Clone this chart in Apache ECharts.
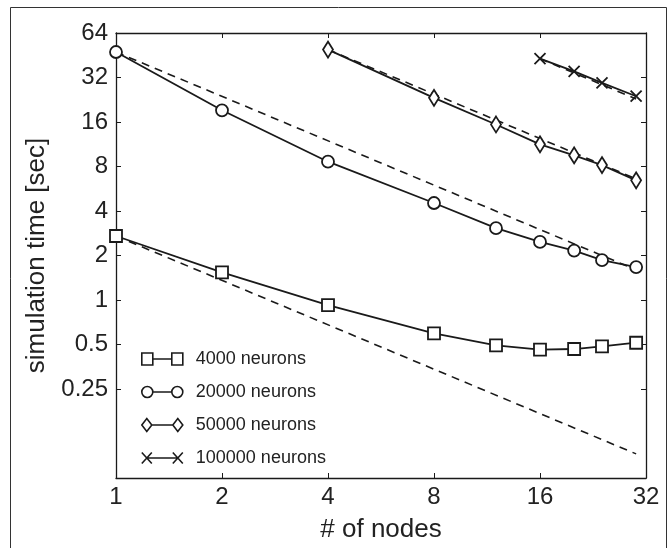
<!DOCTYPE html>
<html>
<head>
<meta charset="utf-8">
<script src="https://cdn.jsdelivr.net/npm/echarts@6/dist/echarts.min.js"></script>
<style>
html,body{margin:0;padding:0;background:#fff;}
#chart{width:671px;height:548px;}
</style>
</head>
<body>
<div id="chart"></div>
<script>
// ---- data ----
const nodes4000 = [1, 2, 4, 8, 12, 16, 20, 24, 30];
const time4000 = [2.71, 1.54, 0.924, 0.595, 0.494, 0.461, 0.466, 0.486, 0.514];
const nodes20000 = [1, 2, 4, 8, 12, 16, 20, 24, 30];
const time20000 = [47.6, 19.2, 8.62, 4.53, 3.06, 2.47, 2.16, 1.86, 1.67];
const nodes50000 = [4, 8, 12, 16, 20, 24, 30];
const time50000 = [49.4, 23.3, 15.4, 11.3, 9.51, 8.18, 6.45];
const nodes100000 = [16, 20, 24, 30];
const time100000 = [42.9, 35.2, 29.4, 23.9];
// dashed ideal-scaling reference lines (end points)
const ideal4000 = [[1, 2.71], [30, 0.091]];
const ideal20000 = [[1, 47.6], [30, 1.6]];
const ideal50000 = [[4, 49.4], [30, 6.6]];
const ideal100000 = [[16, 42.9], [30, 22.9]];
const seriesNames = ['4000 neurons', '20000 neurons', '50000 neurons', '100000 neurons'];
const xTicks = [1, 2, 4, 8, 16, 32];
const yTicks = [0.25, 0.5, 1, 2, 4, 8, 16, 32, 64];

const pair = (xs, ys) => xs.map((x, i) => [x, ys[i]]);

const INK = '#1a1a1a';
const FONT = 'Liberation Sans';

const icons = {
  square: 'path://M0 0.5L11 0.5L11 12.5L0 12.5ZM30 0.5L41 0.5L41 12.5L30 12.5ZM11 6.5L30 6.5',
  circle: 'path://M0 6.5A5.5 5.5 0 1 0 11 6.5A5.5 5.5 0 1 0 0 6.5ZM30 6.5A5.5 5.5 0 1 0 41 6.5A5.5 5.5 0 1 0 30 6.5ZM11 6.5L30 6.5',
  diamond: 'path://M0 6.5L5 0L10 6.5L5 13ZM31 6.5L36 0L41 6.5L36 13ZM10 6.5L31 6.5',
  cross: 'path://M0 1L10 12M0 12L10 1M31 1L41 12M31 12L41 1M5 6.5L36 6.5'
};
const crossSymbol = 'path://M0 0L10 10M0 10L10 0';

function solid(name, data, symbol, size) {
  return {
    name: name, type: 'line', data: data, symbol: symbol, symbolSize: size,
    z: 3,
    color: INK,
    lineStyle: {color: INK, width: 1.8},
    itemStyle: {color: '#fff', borderColor: INK, borderWidth: 1.8},
    emphasis: {disabled: true},
    animation: false
  };
}
function dashed(data) {
  return {
    type: 'line', data: data, symbol: 'none', z: 2,
    lineStyle: {color: INK, width: 1.6, type: [8, 6]},
    emphasis: {disabled: true}, animation: false
  };
}

const chart = echarts.init(document.getElementById('chart'), null, {renderer: 'canvas'});
chart.setOption({
  backgroundColor: '#fff',
  animation: false,
  grid: {left: 116, top: 33, right: 25, bottom: 69},
  graphic: [{
    type: 'rect', silent: true, z: -1,
    shape: {x: 10.5, y: 7.5, width: 656, height: 600},
    style: {fill: 'none', stroke: '#333', lineWidth: 1}
  }],
  legend: {
    orient: 'vertical', left: 136, top: 345, itemWidth: 41, itemHeight: 13, itemGap: 15,
    itemStyle: {color: '#fff', borderColor: INK, borderWidth: 1.6},
    textStyle: {fontFamily: FONT, fontSize: 18, color: '#222', padding: [0, 0, 0, 8]},
    selectedMode: false,
    data: [
      {name: seriesNames[0], icon: icons.square},
      {name: seriesNames[1], icon: icons.circle},
      {name: seriesNames[2], icon: icons.diamond},
      {name: seriesNames[3], icon: icons.cross}
    ]
  },
  xAxis: [{
    type: 'log', logBase: 2, min: 1, max: 32, position: 'bottom',
    name: '# of nodes', nameLocation: 'middle', nameGap: 39,
    nameTextStyle: {fontFamily: FONT, fontSize: 26, color: '#222'},
    axisLine: {lineStyle: {color: INK, width: 1.3}},
    axisTick: {inside: true, length: 5, customValues: xTicks, lineStyle: {color: INK}},
    axisLabel: {customValues: xTicks, fontFamily: FONT, fontSize: 24, color: '#222', margin: 7},
    splitLine: {show: false}, minorTick: {show: false}
  }, {
    type: 'log', logBase: 2, min: 1, max: 32, position: 'top',
    axisLine: {lineStyle: {color: INK, width: 1.3}},
    axisTick: {inside: true, length: 5, customValues: xTicks, lineStyle: {color: INK}},
    axisLabel: {show: false}, splitLine: {show: false}
  }],
  yAxis: [{
    type: 'log', logBase: 2, min: 0.0625, max: 64, position: 'left',
    name: 'simulation time [sec]', nameLocation: 'middle', nameGap: 66,
    nameTextStyle: {fontFamily: FONT, fontSize: 26, color: '#222'},
    axisLine: {show: true, lineStyle: {color: INK, width: 1.3}},
    axisTick: {show: true, inside: true, length: 5, customValues: yTicks, lineStyle: {color: INK}},
    axisLabel: {customValues: yTicks, fontFamily: FONT, fontSize: 24, color: '#222', margin: 8,
      formatter: v => String(v)},
    splitLine: {show: false}, minorTick: {show: false}
  }, {
    type: 'log', logBase: 2, min: 0.0625, max: 64, position: 'right',
    axisLine: {show: true, lineStyle: {color: INK, width: 1.3}},
    axisTick: {show: true, inside: true, length: 5, customValues: yTicks, lineStyle: {color: INK}},
    axisLabel: {show: false}, splitLine: {show: false}
  }],
  series: [
    dashed(ideal4000), dashed(ideal20000), dashed(ideal50000), dashed(ideal100000),
    solid(seriesNames[0], pair(nodes4000, time4000), 'rect', 12),
    solid(seriesNames[1], pair(nodes20000, time20000), 'circle', 12),
    solid(seriesNames[2], pair(nodes50000, time50000), 'diamond', [10, 16]),
    solid(seriesNames[3], pair(nodes100000, time100000), crossSymbol, 11)
  ]
});
</script>
</body>
</html>
